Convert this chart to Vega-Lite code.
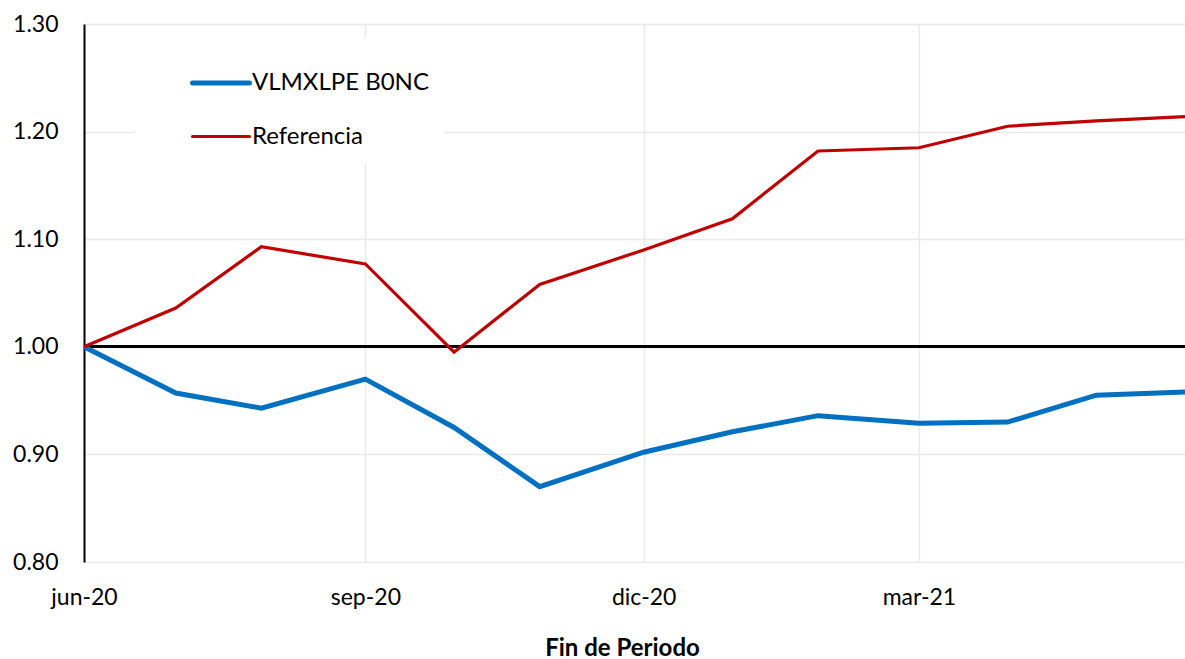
{
  "$schema": "https://vega.github.io/schema/vega-lite/v6.json",
  "autosize": "none",
  "width": 1101,
  "height": 538,
  "padding": {"left": 84, "top": 24, "right": 0, "bottom": 97},
  "background": "white",
  "config": {
    "view": {"stroke": null},
    "font": "Lato",
    "axis": {"labelFont": "Lato", "titleFont": "Lato", "labelColor": "#000000", "titleColor": "#000000"},
    "legend": {"labelFont": "Lato"}
  },
  "data": {
    "values": [
      {"date": "2020-06-30", "serie": "VLMXLPE B0NC", "value": 1.000},
      {"date": "2020-07-30", "serie": "VLMXLPE B0NC", "value": 0.957},
      {"date": "2020-08-27", "serie": "VLMXLPE B0NC", "value": 0.943},
      {"date": "2020-09-30", "serie": "VLMXLPE B0NC", "value": 0.970},
      {"date": "2020-10-29", "serie": "VLMXLPE B0NC", "value": 0.925},
      {"date": "2020-11-26", "serie": "VLMXLPE B0NC", "value": 0.870},
      {"date": "2020-12-30", "serie": "VLMXLPE B0NC", "value": 0.902},
      {"date": "2021-01-28", "serie": "VLMXLPE B0NC", "value": 0.921},
      {"date": "2021-02-25", "serie": "VLMXLPE B0NC", "value": 0.936},
      {"date": "2021-03-30", "serie": "VLMXLPE B0NC", "value": 0.929},
      {"date": "2021-04-28", "serie": "VLMXLPE B0NC", "value": 0.930},
      {"date": "2021-05-27", "serie": "VLMXLPE B0NC", "value": 0.955},
      {"date": "2021-06-25", "serie": "VLMXLPE B0NC", "value": 0.958},
      {"date": "2020-06-30", "serie": "Referencia", "value": 1.000},
      {"date": "2020-07-30", "serie": "Referencia", "value": 1.036},
      {"date": "2020-08-27", "serie": "Referencia", "value": 1.093},
      {"date": "2020-09-30", "serie": "Referencia", "value": 1.077},
      {"date": "2020-10-29", "serie": "Referencia", "value": 0.995},
      {"date": "2020-11-26", "serie": "Referencia", "value": 1.058},
      {"date": "2020-12-30", "serie": "Referencia", "value": 1.090},
      {"date": "2021-01-28", "serie": "Referencia", "value": 1.119},
      {"date": "2021-02-25", "serie": "Referencia", "value": 1.182},
      {"date": "2021-03-30", "serie": "Referencia", "value": 1.185},
      {"date": "2021-04-28", "serie": "Referencia", "value": 1.205},
      {"date": "2021-05-27", "serie": "Referencia", "value": 1.210},
      {"date": "2021-06-25", "serie": "Referencia", "value": 1.214}
    ]
  },
  "encoding": {
    "x": {
      "field": "date",
      "type": "temporal",
      "title": "Fin de Periodo",
      "scale": {
        "type": "utc",
        "domain": [
          {"year": 2020, "month": 6, "date": 30, "utc": true},
          {"year": 2021, "month": 6, "date": 25, "utc": true}
        ]
      },
      "axis": {
        "values": [
          {"year": 2020, "month": 6, "date": 30, "utc": true},
          {"year": 2020, "month": 9, "date": 30, "utc": true},
          {"year": 2020, "month": 12, "date": 30, "utc": true},
          {"year": 2021, "month": 3, "date": 30, "utc": true}
        ],
        "labelExpr": "['ene','feb','mar','abr','may','jun','jul','ago','sep','oct','nov','dic'][utcmonth(datum.value)] + '-' + utcFormat(datum.value, '%y')",
        "domain": false,
        "ticks": false,
        "grid": true,
        "gridColor": "#e9e9e9",
        "gridWidth": 1.5,
        "labelFontSize": 23,
        "labelPadding": 24,
        "labelAlign": "center",
        "labelFlush": false,
        "titleFontSize": 24,
        "titleFontWeight": "bold",
        "titlePadding": 27,
        "titleX": 538
      }
    },
    "y": {
      "field": "value",
      "type": "quantitative",
      "title": null,
      "scale": {"domain": [0.8, 1.3], "nice": false, "zero": false},
      "axis": {
        "values": [0.8, 0.9, 1.0, 1.1, 1.2, 1.3],
        "format": ".2f",
        "domain": true,
        "domainColor": "#000000",
        "domainWidth": 2,
        "ticks": false,
        "grid": true,
        "gridColor": "#e9e9e9",
        "gridWidth": 1.5,
        "labelFontSize": 23,
        "labelPadding": 26
      }
    }
  },
  "layer": [
    {
      "mark": {"type": "rule", "color": "#000000", "strokeWidth": 2},
      "encoding": {"y": {"datum": 1.0}, "x": null}
    },
    {
      "mark": {"type": "line", "strokeJoin": "miter", "clip": false},
      "encoding": {
        "color": {
          "field": "serie",
          "type": "nominal",
          "scale": {"domain": ["VLMXLPE B0NC", "Referencia"], "range": ["#0070C0", "#C00000"]},
          "legend": {
            "title": null,
            "orient": "none",
            "legendX": 51,
            "legendY": 13,
            "fillColor": "white",
            "padding": 15,
            "symbolType": "stroke",
            "symbolSize": 3249,
            "symbolOffset": 40,
            "labelOffset": 0,
            "labelFontSize": 24,
            "labelLimit": 0,
            "labelColor": "#000000",
            "rowPadding": 11,
            "encode": {
              "symbols": {
                "update": {
                  "strokeWidth": {"signal": "datum.value === 'VLMXLPE B0NC' ? 5 : 3"},
                  "strokeCap": {"value": "round"}
                }
              }
            }
          }
        },
        "strokeWidth": {
          "field": "serie",
          "type": "nominal",
          "scale": {"domain": ["VLMXLPE B0NC", "Referencia"], "range": [5, 3.2]},
          "legend": null
        }
      }
    }
  ]
}
